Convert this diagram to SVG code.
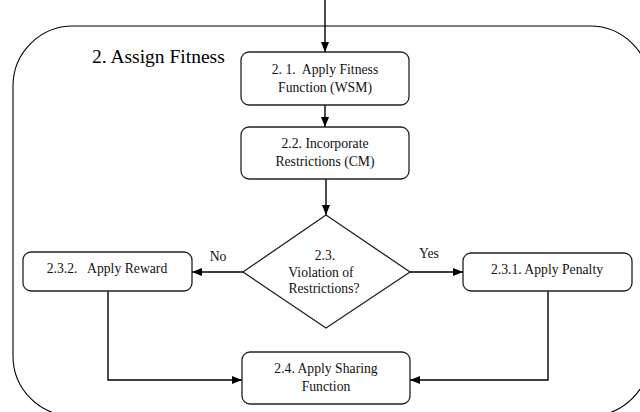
<svg xmlns="http://www.w3.org/2000/svg" width="640" height="412" viewBox="0 0 640 412">
<defs>
<marker id="ah" markerUnits="userSpaceOnUse" markerWidth="10" markerHeight="10" viewBox="0 0 10 10" refX="10" refY="5" orient="auto">
<path d="M0,1 L10,5 L0,9 Z" fill="#000"/>
</marker>
</defs>
<style>
.box{fill:#fff;stroke:#222;stroke-width:1.3}
.t{font-family:"Liberation Serif","Times New Roman",serif;font-size:13.7px;fill:#111;text-anchor:middle;white-space:pre}
.d{font-size:13.6px}
.c{fill:none;stroke:#000;stroke-width:1.4}
</style>
<g id="container">
<rect x="13" y="26" width="637" height="390" rx="60" ry="60" fill="none" stroke="#000" stroke-width="1.1"/>
<text x="92" y="63" font-family="Liberation Serif,'Times New Roman',serif" font-size="19.5" fill="#000">2. Assign Fitness</text>
</g>
<g id="connectors">
<line class="c" x1="325" y1="0" x2="325" y2="52" marker-end="url(#ah)"/>
<line class="c" x1="325" y1="105" x2="325" y2="127" marker-end="url(#ah)"/>
<line class="c" x1="326" y1="179" x2="326" y2="215" marker-end="url(#ah)"/>
<line class="c" x1="243" y1="272" x2="192" y2="272" marker-end="url(#ah)"/>
<line class="c" x1="410" y1="272" x2="463" y2="272" marker-end="url(#ah)"/>
<polyline class="c" points="108,291 108,380 242,380" marker-end="url(#ah)"/>
<polyline class="c" points="548,291 548,380 410,380" marker-end="url(#ah)"/>
<text class="t" x="218" y="261">No</text>
<text class="t" x="429" y="258">Yes</text>
</g>
<g id="n21">
<rect class="box" x="241" y="52" width="168" height="53" rx="8"/>
<text class="t" x="325" y="74">2. 1.  Apply Fitness</text>
<text class="t" x="325" y="92">Function (WSM)</text>
</g>
<g id="n22">
<rect class="box" x="241" y="127" width="168" height="52" rx="8"/>
<text class="t" x="325" y="148">2.2. Incorporate</text>
<text class="t" x="325" y="166">Restrictions (CM)</text>
</g>
<g id="n23">
<polygon class="box" points="326,215 410,272 326,328 243,272"/>
<text class="t d" x="325" y="260">2.3.</text>
<text class="t d" x="321" y="277">Violation of</text>
<text class="t d" x="324" y="293">Restrictions?</text>
</g>
<g id="n232">
<rect class="box" x="23" y="252" width="169" height="39" rx="8"/>
<text class="t" x="107" y="273">2.3.2.   Apply Reward</text>
</g>
<g id="n231">
<rect class="box" x="463" y="253" width="169" height="38" rx="8"/>
<text class="t" x="547" y="274">2.3.1. Apply Penalty</text>
</g>
<g id="n24">
<rect class="box" x="242" y="352" width="168" height="52" rx="8"/>
<text class="t" x="326" y="373">2.4. Apply Sharing</text>
<text class="t" x="326" y="391">Function</text>
</g>
</svg>
